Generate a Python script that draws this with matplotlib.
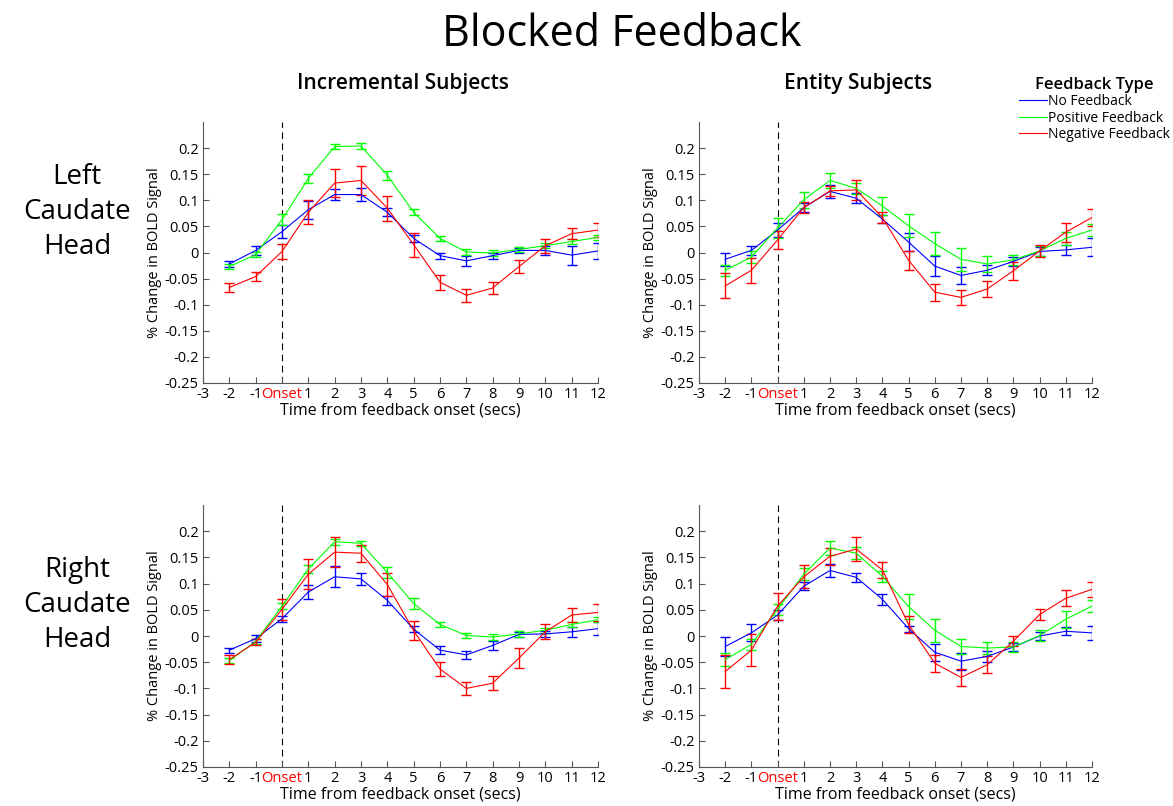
import matplotlib
matplotlib.use("Agg")
import matplotlib.pyplot as plt
import numpy as np

plt.rcParams['font.family'] = ['Open Sans', 'DejaVu Sans']

# time points (secs from feedback onset)
t = [-2, -1, 0, 1, 2, 3, 4, 5, 6, 7, 8, 9, 10, 11, 12]
xtick_vals = list(range(-3, 13))
xtick_labels = ['-3', '-2', '-1', 'Onset', '1', '2', '3', '4', '5', '6', '7', '8', '9', '10', '11', '12']
ytick_vals = [-0.25, -0.2, -0.15, -0.1, -0.05, 0, 0.05, 0.1, 0.15, 0.2]

series_names = ['No Feedback', 'Positive Feedback', 'Negative Feedback']
series_colors = ['#0000ff', '#00ff00', '#ff0000']

# Left caudate head, incremental subjects
lci_none = [-0.022, 0.004, 0.040, 0.082, 0.111, 0.111, 0.077, 0.027, -0.006, -0.016, -0.006, 0.004, 0.004, -0.005, 0.003]
lci_none_err = [0.006, 0.009, 0.013, 0.017, 0.010, 0.013, 0.008, 0.006, 0.006, 0.009, 0.006, 0.005, 0.008, 0.018, 0.016]
lci_pos = [-0.027, -0.004, 0.063, 0.142, 0.203, 0.204, 0.148, 0.077, 0.027, 0.001, -0.001, 0.006, 0.013, 0.021, 0.029]
lci_pos_err = [0.005, 0.005, 0.010, 0.009, 0.005, 0.005, 0.009, 0.006, 0.005, 0.005, 0.005, 0.005, 0.005, 0.005, 0.005]
lci_neg = [-0.067, -0.046, 0.002, 0.077, 0.133, 0.138, 0.085, 0.015, -0.057, -0.082, -0.068, -0.027, 0.013, 0.036, 0.043]
lci_neg_err = [0.008, 0.008, 0.014, 0.023, 0.027, 0.027, 0.024, 0.023, 0.014, 0.013, 0.011, 0.013, 0.013, 0.011, 0.014]

# Left caudate head, entity subjects
lce_none = [-0.013, 0.004, 0.043, 0.086, 0.117, 0.104, 0.064, 0.020, -0.026, -0.044, -0.034, -0.017, 0.002, 0.005, 0.010]
lce_none_err = [0.013, 0.009, 0.014, 0.008, 0.012, 0.010, 0.008, 0.017, 0.019, 0.017, 0.010, 0.008, 0.008, 0.010, 0.017]
lce_pos = [-0.034, -0.009, 0.047, 0.101, 0.138, 0.123, 0.089, 0.051, 0.017, -0.013, -0.022, -0.014, 0.003, 0.027, 0.043]
lce_pos_err = [0.011, 0.011, 0.020, 0.015, 0.015, 0.011, 0.018, 0.022, 0.022, 0.022, 0.015, 0.010, 0.010, 0.013, 0.011]
lce_neg = [-0.064, -0.034, 0.024, 0.086, 0.118, 0.120, 0.067, -0.015, -0.076, -0.086, -0.070, -0.035, 0.003, 0.039, 0.067]
lce_neg_err = [0.024, 0.024, 0.017, 0.010, 0.010, 0.019, 0.011, 0.018, 0.016, 0.015, 0.016, 0.017, 0.011, 0.018, 0.017]

# Right caudate head, incremental subjects
rci_none = [-0.027, -0.005, 0.033, 0.084, 0.113, 0.109, 0.068, 0.013, -0.027, -0.036, -0.018, 0.003, 0.004, 0.008, 0.014]
rci_none_err = [0.005, 0.006, 0.006, 0.014, 0.020, 0.012, 0.008, 0.006, 0.008, 0.008, 0.008, 0.005, 0.005, 0.010, 0.013]
rci_pos = [-0.047, -0.010, 0.057, 0.128, 0.180, 0.177, 0.121, 0.062, 0.022, 0.001, -0.002, 0.004, 0.011, 0.022, 0.031]
rci_pos_err = [0.005, 0.005, 0.006, 0.008, 0.006, 0.005, 0.010, 0.010, 0.005, 0.005, 0.005, 0.005, 0.005, 0.005, 0.005]
rci_neg = [-0.045, -0.012, 0.051, 0.118, 0.160, 0.158, 0.098, 0.010, -0.063, -0.100, -0.090, -0.042, 0.008, 0.040, 0.045]
rci_neg_err = [0.008, 0.006, 0.020, 0.029, 0.029, 0.016, 0.022, 0.018, 0.014, 0.012, 0.013, 0.019, 0.014, 0.013, 0.016]

# Right caudate head, entity subjects
rce_none = [-0.020, 0.006, 0.040, 0.095, 0.125, 0.112, 0.070, 0.014, -0.031, -0.048, -0.039, -0.021, 0.000, 0.009, 0.006]
rce_none_err = [0.019, 0.016, 0.010, 0.008, 0.012, 0.009, 0.010, 0.006, 0.016, 0.016, 0.010, 0.008, 0.008, 0.008, 0.013]
rce_pos = [-0.045, -0.016, 0.051, 0.118, 0.168, 0.158, 0.114, 0.056, 0.011, -0.020, -0.023, -0.021, 0.001, 0.032, 0.057]
rce_pos_err = [0.013, 0.011, 0.011, 0.011, 0.014, 0.011, 0.011, 0.024, 0.022, 0.014, 0.011, 0.010, 0.011, 0.016, 0.011]
rce_neg = [-0.068, -0.027, 0.057, 0.113, 0.152, 0.166, 0.126, 0.022, -0.052, -0.079, -0.055, -0.010, 0.041, 0.072, 0.089]
rce_neg_err = [0.031, 0.031, 0.026, 0.022, 0.016, 0.022, 0.016, 0.016, 0.016, 0.016, 0.016, 0.010, 0.011, 0.015, 0.014]

panels = [
    [(lci_none, lci_none_err), (lci_pos, lci_pos_err), (lci_neg, lci_neg_err)],
    [(lce_none, lce_none_err), (lce_pos, lce_pos_err), (lce_neg, lce_neg_err)],
    [(rci_none, rci_none_err), (rci_pos, rci_pos_err), (rci_neg, rci_neg_err)],
    [(rce_none, rce_none_err), (rce_pos, rce_pos_err), (rce_neg, rce_neg_err)],
]

W, H = 1173, 806
fig = plt.figure(figsize=(W / 100, H / 100), dpi=100)

# axes boxes in pixels: left, top, right, bottom
boxes = [(203, 122, 598, 383), (699, 122, 1092, 383),
         (203, 505, 598, 767), (699, 505, 1092, 767)]

handles = []
for k, (box, data) in enumerate(zip(boxes, panels)):
    l, tp, r, b = box
    ax = fig.add_axes([l / W, 1 - b / H, (r - l) / W, (b - tp) / H])
    ax.axvline(0, color='k', ls=(0, (6, 4)), lw=0.8, zorder=1)
    for (vals, errs), c, name in zip(data, series_colors, series_names):
        h = ax.errorbar(t, vals, yerr=errs, color=c, lw=0.8, elinewidth=1.0,
                        capsize=3.5, capthick=1.0, label=name, zorder=2)
        if k == 0:
            handles.append(h)
    ax.set_xlim(-3, 12)
    ax.set_ylim(-0.25, 0.25)
    ax.set_xticks(xtick_vals)
    ax.set_xticklabels(xtick_labels, fontweight='medium')
    ax.get_xticklabels()[3].set_color('red')
    ax.set_yticks(ytick_vals)
    ax.set_yticklabels(['%g' % v for v in ytick_vals], fontweight='medium')
    ax.spines['top'].set_visible(False)
    ax.spines['right'].set_visible(False)
    ax.spines['left'].set_color('#555555')
    ax.spines['bottom'].set_color('#555555')
    ax.tick_params(direction='in', length=4, width=0.8, color='#555555',
                   labelsize=10.5, pad=3)
    ax.set_xlabel('Time from feedback onset (secs)', fontsize=11.5, labelpad=0,
                  fontweight='medium')
    ax.set_ylabel('% Change in BOLD Signal', fontsize=10.5, labelpad=2,
                  fontweight='medium')

fig.text(622 / W, 1 - 35 / H, 'Blocked Feedback', ha='center', va='center', fontsize=31)
fig.text(403 / W, 1 - 84 / H, 'Incremental Subjects', ha='center', va='center',
         fontsize=15, fontweight='semibold')
fig.text(858 / W, 1 - 84 / H, 'Entity Subjects', ha='center', va='center',
         fontsize=15, fontweight='semibold')
fig.text(77 / W, 1 - 212 / H, 'Left\nCaudate\nHead', ha='center', va='center',
         fontsize=20, linespacing=1.35, fontweight='medium')
fig.text(77 / W, 1 - 605 / H, 'Right\nCaudate\nHead', ha='center', va='center',
         fontsize=20, linespacing=1.35, fontweight='medium')

leg = fig.legend(handles=[h.lines[0] for h in handles], labels=series_names,
                 title='Feedback Type', loc='upper right',
                 bbox_to_anchor=(1.0, 1 - 74 / H), frameon=False,
                 prop={'size': 10, 'weight': 'medium'},
                 title_fontproperties={'size': 12, 'weight': 'semibold'},
                 handlelength=2.0, handletextpad=0.1,
                 labelspacing=0.1, borderaxespad=0, borderpad=0.2)

fig.savefig('out.png', dpi=100)
